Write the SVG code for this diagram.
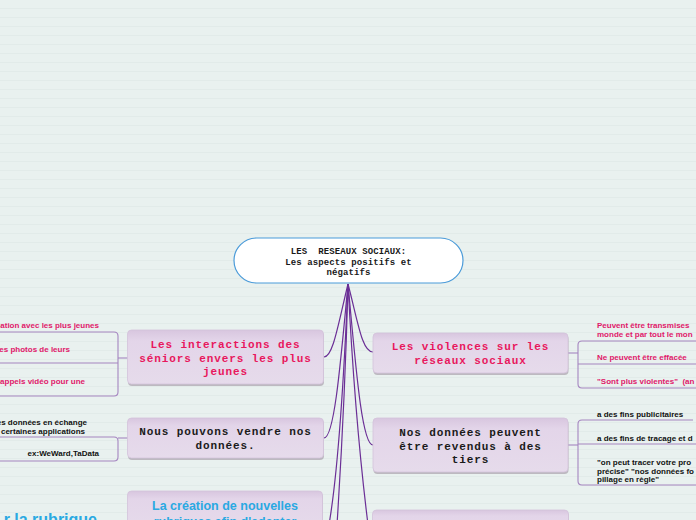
<svg xmlns="http://www.w3.org/2000/svg" width="696" height="520" viewBox="0 0 696 520">
<defs>
<pattern id="bg" width="20" height="9" patternUnits="userSpaceOnUse">
<rect width="20" height="9" fill="#e9f1ef"/>
<line x1="0" y1="8.5" x2="20" y2="8.5" stroke="#e2ebe9" stroke-width="1"/>
</pattern>
<linearGradient id="ng" x1="0" y1="0" x2="0" y2="1">
<stop offset="0" stop-color="#d8c6df"/>
<stop offset="0.2" stop-color="#e3d5e9"/>
<stop offset="1" stop-color="#e6dbeb"/>
</linearGradient>
<style>
.node{fill:url(#ng);stroke:#d3c3da;stroke-width:0.8}
.shadow{fill:#a9a1ad;opacity:0.7}
.conn{fill:none;stroke:#6b2f96;stroke-width:1.2}
.br{fill:none;stroke:#a585c0;stroke-width:1.1}
.mono{font-family:"Liberation Mono","DejaVu Sans Mono",monospace;font-size:11px;font-weight:bold;letter-spacing:0.9px;text-anchor:middle}
.pink{fill:#e8175d}
.blk{fill:#1a1a1a}
.sub{font-family:"Liberation Sans",Arial,sans-serif;font-size:8px;font-weight:bold}
.sp{fill:#e0186a}
.sb{fill:#111}
.blue{font-family:"Liberation Sans",Arial,sans-serif;font-weight:bold;fill:#2aa9e2}
.rt{font-family:"Liberation Mono","DejaVu Sans Mono",monospace;font-size:9px;font-weight:bold;letter-spacing:0.1px;text-anchor:middle;fill:#1a1a1a}
</style>
</defs>
<rect width="696" height="520" fill="url(#bg)"/>

<g id="connectors">
<path class="conn" d="M348,284 C338,325 333,357 324,357"/>
<path class="conn" d="M348,284 C340,370 334,438 324,438"/>
<path class="conn" d="M348,284 C343,400 335,500 326,540"/>
<path class="conn" d="M348,284 C345,400 340,480 336,540"/>
<path class="conn" d="M348,284 C358,322 362,352 373,352"/>
<path class="conn" d="M348,284 C356,370 362,445 373,445"/>
<path class="conn" d="M348,284 C354,400 362,480 370,540"/>
<path class="br" d="M128,358 H118"/>
<path class="br" d="M0,332 H114 Q118,332 118,336 V392 Q118,396 114,396 H0"/>
<path class="br" d="M0,363 H118"/>
<path class="br" d="M128,438 H118"/>
<path class="br" d="M0,437 H114 Q118,437 118,441 V457 Q118,461 114,461 H0"/>
<path class="br" d="M568,353 H578"/>
<path class="br" d="M696,341 H582 Q578,341 578,345 V384 Q578,388 582,388 H696"/>
<path class="br" d="M578,364 H696"/>
<path class="br" d="M568,445 H578"/>
<path class="br" d="M693,420 H582 Q578,420 578,424 V481 Q578,485 582,485 H696"/>
<path class="br" d="M578,444 H696"/>
</g>

<g id="root">
<rect x="234" y="238" width="229" height="45" rx="22.5" fill="#ffffff" stroke="#4b9bd9" stroke-width="1.2"/>
<text class="rt" x="348.5" y="254" xml:space="preserve">LES  RESEAUX SOCIAUX:</text>
<text class="rt" x="348.5" y="264.5">Les aspects positifs et</text>
<text class="rt" x="348.5" y="275">négatifs</text>
</g>

<g id="node-interactions">
<rect class="shadow" x="128" y="332" width="196" height="54" rx="4"/>
<rect class="node" x="127.5" y="330" width="196" height="54" rx="4"/>
<text class="mono pink" x="225.5" y="348">Les interactions des</text>
<text class="mono pink" x="225.5" y="361.5">séniors envers les plus</text>
<text class="mono pink" x="225.5" y="375">jeunes</text>
</g>
<g id="sub-interactions">
<text class="sub sp" x="99" y="328" text-anchor="end">ation avec les plus jeunes</text>
<text class="sub sp" x="70" y="352" text-anchor="end">es photos de leurs</text>
<text class="sub sp" x="85" y="384" text-anchor="end">appels vidéo pour une</text>
</g>

<g id="node-vendre">
<rect class="shadow" x="128" y="420" width="196" height="40" rx="4"/>
<rect class="node" x="127.5" y="418" width="196" height="40" rx="4"/>
<text class="mono blk" x="225.5" y="435">Nous pouvons vendre nos</text>
<text class="mono blk" x="225.5" y="449">données.</text>
</g>
<g id="sub-vendre">
<text class="sub sb" x="87" y="424.5" text-anchor="end">es données en échange</text>
<text class="sub sb" x="85" y="434" text-anchor="end">certaines applications</text>
<text class="sub sb" x="99" y="456" text-anchor="end">ex:WeWard,TaData</text>
</g>

<g id="node-rubriques">
<rect class="shadow" x="128" y="493" width="195" height="40" rx="4"/>
<rect class="node" x="127.5" y="491" width="195" height="40" rx="4"/>
<text class="blue" x="225" y="510" text-anchor="middle" font-size="12.5">La création de nouvelles</text>
<text class="blue" x="225" y="526" text-anchor="middle" font-size="12.5">rubriques afin d'adapter</text>
</g>
<g id="sub-rubriques">
<text class="blue" x="97" y="525" text-anchor="end" font-size="16">r la rubrique</text>
</g>

<g id="node-violences">
<rect class="shadow" x="373.5" y="335" width="195" height="40" rx="4"/>
<rect class="node" x="373" y="333" width="195" height="40" rx="4"/>
<text class="mono pink" x="470.5" y="350">Les violences sur les</text>
<text class="mono pink" x="470.5" y="364">réseaux sociaux</text>
</g>
<g id="sub-violences">
<text class="sub sp" x="597" y="328">Peuvent être transmises</text>
<text class="sub sp" x="597" y="337">monde et par tout le mon</text>
<text class="sub sp" x="597" y="360">Ne peuvent être effacée</text>
<text class="sub sp" x="597" y="384" xml:space="preserve">"Sont plus violentes"  (an</text>
</g>

<g id="node-revendus">
<rect class="shadow" x="373.5" y="420" width="195" height="54" rx="4"/>
<rect class="node" x="373" y="418" width="195" height="54" rx="4"/>
<text class="mono blk" x="470.5" y="436">Nos données peuvent</text>
<text class="mono blk" x="470.5" y="449.5">être revendus à des</text>
<text class="mono blk" x="470.5" y="463">tiers</text>
</g>
<g id="sub-revendus">
<text class="sub sb" x="597" y="417">a des fins publicitaires</text>
<text class="sub sb" x="597" y="441">a des fins de tracage et d</text>
<text class="sub sb" x="597" y="465">"on peut tracer votre pro</text>
<text class="sub sb" x="597" y="473.5">précise" "nos données fo</text>
<text class="sub sb" x="597" y="482">pillage en règle"</text>
</g>

<g id="node-bottom-right">
<rect class="shadow" x="373" y="512" width="196" height="30" rx="4"/>
<rect class="node" x="372.5" y="510" width="196" height="30" rx="4"/>
</g>
</svg>
